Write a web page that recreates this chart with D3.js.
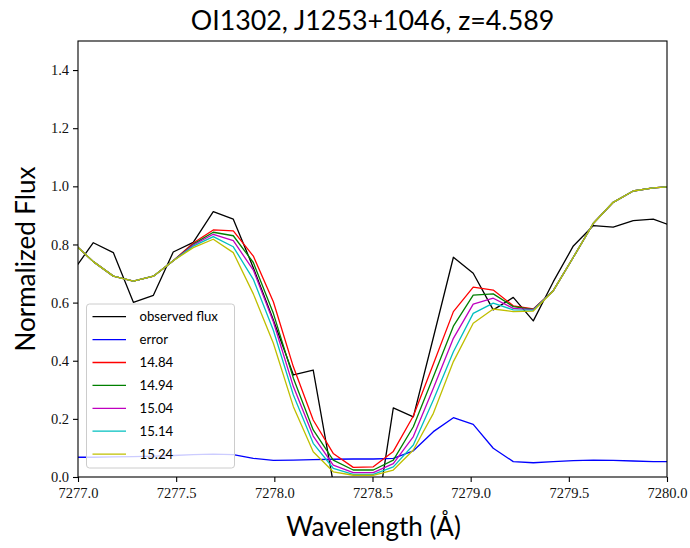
<!DOCTYPE html>
<html>
<head>
<meta charset="utf-8">
<script src="https://cdn.jsdelivr.net/npm/d3@7"></script>
<style>
  html, body { margin: 0; padding: 0; background: #fff; }
  svg { display: block; }
</style>
</head>
<body>
<svg id="chart" width="690" height="548"></svg>
<script>
// ---------------- data ----------------
const wavelength = [7276.976, 7277.078, 7277.180, 7277.282, 7277.384, 7277.485, 7277.587, 7277.689, 7277.791, 7277.893,
  7277.995, 7278.097, 7278.198, 7278.300, 7278.402, 7278.504, 7278.606, 7278.708, 7278.810, 7278.912,
  7279.013, 7279.115, 7279.217, 7279.319, 7279.421, 7279.523, 7279.625, 7279.726, 7279.828, 7279.930, 7280.032];

const observedFlux = [0.71, 0.806, 0.772, 0.601, 0.625, 0.774, 0.807, 0.913, 0.887, 0.72,
  0.54, 0.351, 0.368, -0.02, -0.15, -0.21, 0.238, 0.207, 0.48, 0.756,
  0.701, 0.575, 0.618, 0.537, 0.672, 0.795, 0.865, 0.860, 0.882, 0.887, 0.862];

const errorFlux = [0.068, 0.068, 0.069, 0.070, 0.072, 0.074, 0.077, 0.079, 0.077, 0.064,
  0.057, 0.058, 0.060, 0.061, 0.062, 0.062, 0.064, 0.090, 0.156, 0.204,
  0.181, 0.099, 0.053, 0.049, 0.053, 0.056, 0.058, 0.057, 0.055, 0.053, 0.053];

const model1484 = [0.805, 0.741, 0.691, 0.674, 0.691, 0.744, 0.805, 0.850, 0.847, 0.760,
  0.603, 0.379, 0.196, 0.081, 0.033, 0.035, 0.088, 0.210, 0.389, 0.569,
  0.653, 0.643, 0.589, 0.578, 0.641, 0.756, 0.873, 0.945, 0.984, 0.995, 1.000];
const model1494 = [0.805, 0.741, 0.691, 0.674, 0.691, 0.744, 0.801, 0.842, 0.830, 0.738,
  0.563, 0.340, 0.162, 0.058, 0.024, 0.024, 0.058, 0.173, 0.345, 0.519,
  0.626, 0.630, 0.586, 0.577, 0.641, 0.756, 0.873, 0.945, 0.984, 0.995, 1.000];
const model1504 = [0.805, 0.741, 0.691, 0.674, 0.691, 0.744, 0.798, 0.835, 0.813, 0.712,
  0.534, 0.311, 0.141, 0.041, 0.015, 0.015, 0.046, 0.139, 0.305, 0.477,
  0.595, 0.615, 0.580, 0.576, 0.641, 0.756, 0.873, 0.945, 0.984, 0.995, 1.000];
const model1514 = [0.805, 0.741, 0.691, 0.674, 0.691, 0.744, 0.794, 0.827, 0.792, 0.680,
  0.505, 0.282, 0.116, 0.030, 0.009, 0.009, 0.035, 0.110, 0.265, 0.431,
  0.563, 0.598, 0.575, 0.574, 0.641, 0.756, 0.873, 0.945, 0.984, 0.995, 1.000];
const model1524 = [0.805, 0.741, 0.691, 0.674, 0.691, 0.744, 0.789, 0.818, 0.772, 0.630,
  0.460, 0.242, 0.087, 0.018, 0.006, 0.006, 0.024, 0.093, 0.219, 0.397,
  0.529, 0.578, 0.569, 0.571, 0.641, 0.756, 0.873, 0.945, 0.984, 0.995, 1.000];

const seriesNames = ["observed flux", "error", "14.84", "14.94", "15.04", "15.14", "15.24"];
const seriesValues = [observedFlux, errorFlux, model1484, model1494, model1504, model1514, model1524];
const seriesColors = ["#000000", "#0000ff", "#ff0000", "#008000", "#bf00bf", "#00bfbf", "#bfbf00"];

const xTicks = [7277.0, 7277.5, 7278.0, 7278.5, 7279.0, 7279.5, 7280.0];
const yTicks = [0.0, 0.2, 0.4, 0.6, 0.8, 1.0, 1.2, 1.4];
const titleText = "OI1302, J1253+1046, z=4.589";
const xLabelText = "Wavelength (Å)";
const yLabelText = "Normalized Flux";

// ---------------- layout ----------------
const mLeft = 78, mRight = 667, mTop = 41, mBottom = 477;

const svg = d3.select("#chart");
const x = d3.scaleLinear().domain([7277.0, 7280.0]).range([mLeft, mRight]);
const y = d3.scaleLinear().domain([0, 1.5]).range([mBottom, mTop]);

svg.append("defs").append("clipPath").attr("id", "plotclip")
  .append("rect").attr("x", mLeft).attr("y", mTop).attr("width", mRight - mLeft).attr("height", mBottom - mTop);

const plot = svg.append("g").attr("clip-path", "url(#plotclip)");
const line = d3.line().x((d, i) => x(wavelength[i])).y(d => y(d));

seriesValues.forEach((vals, k) => {
  plot.append("path")
    .datum(vals)
    .attr("d", line)
    .attr("fill", "none")
    .attr("stroke", seriesColors[k])
    .attr("stroke-width", 1.3)
    .attr("stroke-linejoin", "round");
});

// axes
const tickFont = "'Liberation Serif', 'DejaVu Serif', serif";
const xAxis = d3.axisBottom(x).tickValues(xTicks).tickFormat(d3.format(".1f")).tickSizeInner(5).tickSizeOuter(0).tickPadding(6);
const yAxis = d3.axisLeft(y).tickValues(yTicks).tickFormat(d3.format(".1f")).tickSizeInner(5).tickSizeOuter(0).tickPadding(4);

const gx = svg.append("g").attr("transform", `translate(0,${mBottom})`).call(xAxis);
const gy = svg.append("g").attr("transform", `translate(${mLeft},0)`).call(yAxis);
[gx, gy].forEach(g => {
  g.select(".domain").remove();
  g.selectAll("line").attr("stroke", "#000").attr("stroke-width", 1.1);
  g.selectAll("text").attr("font-family", tickFont).attr("font-size", 14.5).attr("fill", "#111");
});

// frame
svg.append("rect").attr("x", mLeft).attr("y", mTop).attr("width", mRight - mLeft).attr("height", mBottom - mTop)
  .attr("fill", "none").attr("stroke", "#000").attr("stroke-width", 1.1);

// labels
const sansFont = "Lato, 'Open Sans', 'DejaVu Sans', sans-serif";
svg.append("text").attr("x", (mLeft + mRight) / 2).attr("y", 30).attr("text-anchor", "middle")
  .attr("font-family", sansFont).attr("font-size", 26.8).attr("fill", "#000").text(titleText);
svg.append("text").attr("x", (mLeft + mRight) / 2 + 1).attr("y", 536).attr("text-anchor", "middle")
  .attr("font-family", sansFont).attr("font-size", 26).attr("fill", "#000").text(xLabelText);
svg.append("text").attr("transform", `translate(35,${(mTop + mBottom) / 2}) rotate(-90)`).attr("text-anchor", "middle")
  .attr("font-family", sansFont).attr("font-size", 26).attr("fill", "#000").text(yLabelText);

// legend
const lg = svg.append("g");
lg.append("rect").attr("x", 86.5).attr("y", 304).attr("width", 148).attr("height", 164)
  .attr("rx", 3).attr("fill", "#fff").attr("fill-opacity", 0.8).attr("stroke", "#cccccc").attr("stroke-width", 1);
seriesNames.forEach((name, k) => {
  const yy = 316.7 + k * 22.9;
  lg.append("line").attr("x1", 92.5).attr("x2", 126).attr("y1", yy).attr("y2", yy)
    .attr("stroke", seriesColors[k]).attr("stroke-width", 1.3);
  lg.append("text").attr("x", 139.5).attr("y", yy).attr("dy", "0.36em")
    .attr("font-family", sansFont).attr("font-size", 13.2).attr("fill", "#000").text(name);
});
</script>
</body>
</html>
